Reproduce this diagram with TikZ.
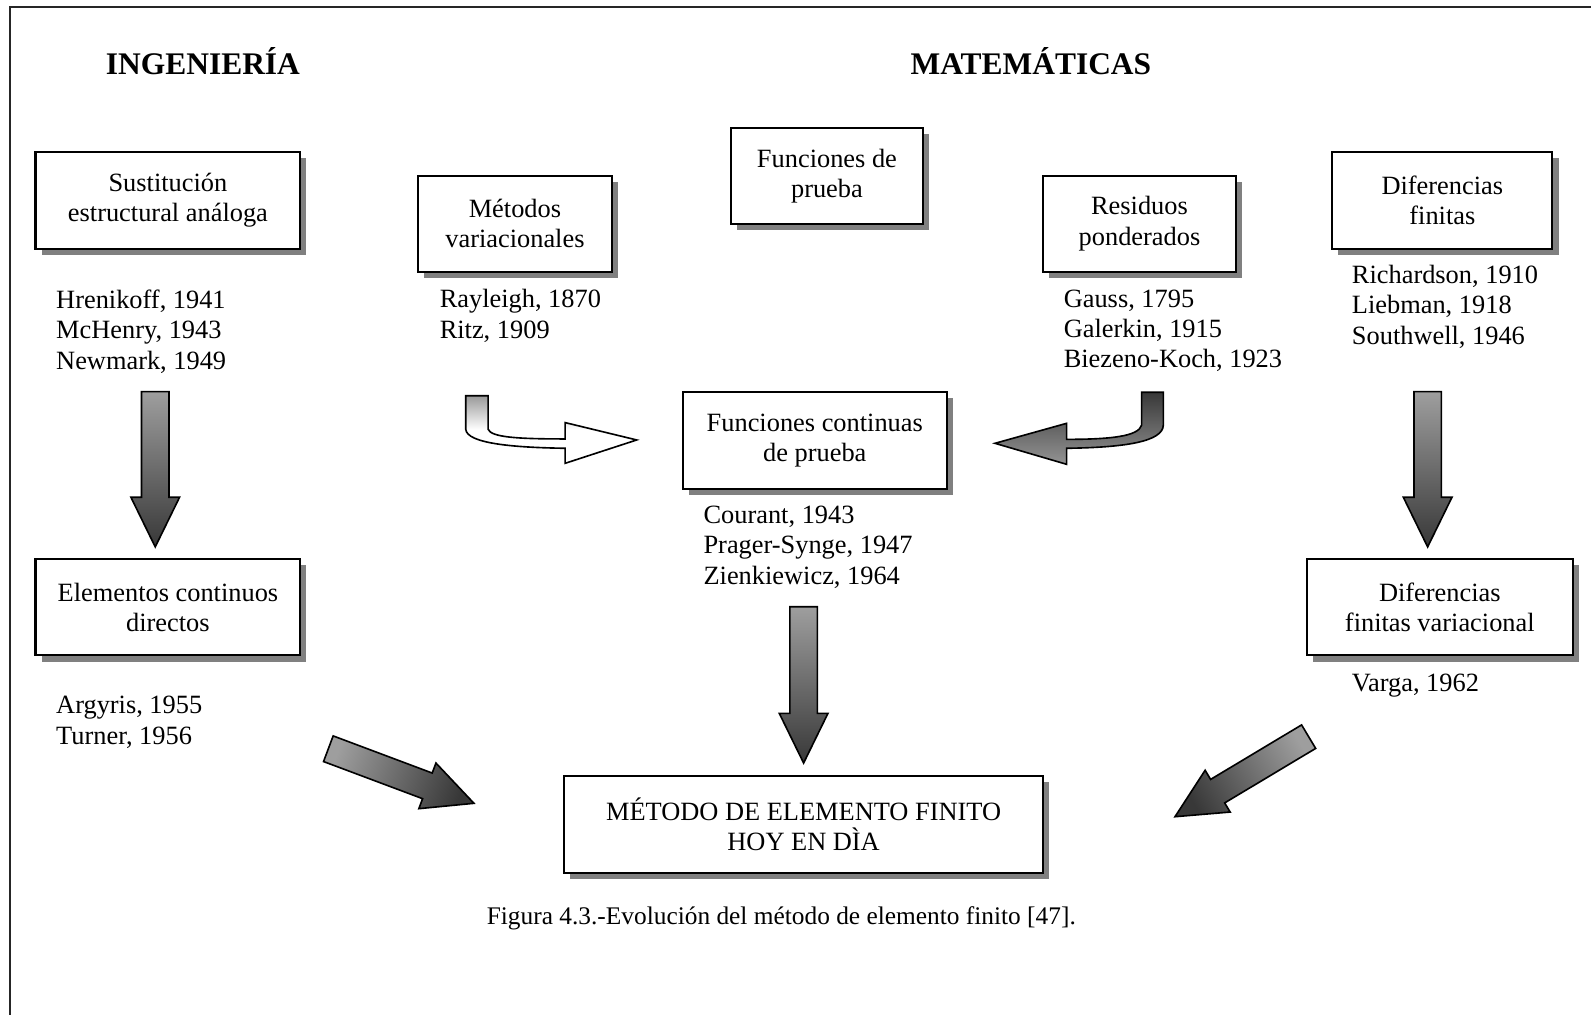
\documentclass[tikz,border=0pt]{standalone}
\usepackage{fontspec}
\setmainfont{Liberation Serif}
\usetikzlibrary{calc,shadows}

\tikzset{
    infobox/.style={
        draw,
        line width=1pt,
        fill=white,
        align=center,
        minimum height=47.5pt,
        drop shadow={fill=black!50, opacity=1, shadow xshift=3pt, shadow yshift=-3pt}
        },
    datelist/.style={anchor=north west, align=left, inner sep=0pt},
    heading/.style={font=\fontsize{15.5}{18}\selectfont\bfseries},
    blockfill/.style={draw, line width=0.8pt, line join=miter}
}

% thick shaded block arrow from #1 to #2, shading angle #3
\newcommand{\blockarrow}[3]{%
    \coordinate (#1-s) at ($(#2)!24.5pt!(#1)$);
    \path[blockfill, top color=black!38, bottom color=black!78, shading angle=#3]
        ($(#1)!6.75pt!90:(#2)$) -- ($(#1-s)!6.75pt!-90:(#1)$)
        -- ($(#1-s)!12pt!-90:(#1)$) -- (#2)
        -- ($(#1-s)!12pt!90:(#1)$) -- ($(#1-s)!6.75pt!90:(#1)$)
        -- ($(#1)!6.75pt!-90:(#2)$) -- cycle;
}

\begin{document}
\begin{tikzpicture}[x=0.5pt, y=-0.5pt, font=\fontsize{13}{15}\selectfont]
\useasboundingbox (0,0) rectangle (1568,1000);
\draw[line width=1pt, black!85] (10,1010) |- (1580,7);

% headings
\node[heading] (ing) at (200,60) {INGENIERÍA};
\node[heading] (mat) at (1016,60) {MATEMÁTICAS};

% boxes
\node[infobox, minimum width=130.5pt] (sust) at (165.5,197.5) {Sustitución\\estructural análoga};
\node[infobox, minimum width=95.5pt] (metodos) at (507.5,220.5) {Métodos\\variacionales};
\node[infobox, minimum width=95pt] (funprueba) at (815,173.5) {Funciones de\\prueba};
\node[infobox, minimum width=95pt] (residuos) at (1123,220.5) {Residuos\\ponderados};
\node[infobox, minimum width=108.5pt] (difin) at (1421.5,197.5) {Diferencias\\finitas};
\node[infobox, minimum width=130pt] (funcont) at (803,434) {Funciones continuas\\de prueba};
\node[infobox, minimum width=130.5pt] (elementos) at (165.5,598.5) {Elementos continuos\\directos};
\node[infobox, minimum width=131pt] (difvar) at (1419,598.5) {Diferencias\\finitas variacional};
\node[infobox, minimum width=236pt] (mef) at (792,812.5) {MÉTODO DE ELEMENTO FINITO\\HOY EN DÌA};

% authors and years
\node[datelist] (hren) at (55,285) {Hrenikoff, 1941\\McHenry, 1943\\Newmark, 1949};
\node[datelist] (rayl) at (433,285) {Rayleigh, 1870\\Ritz, 1909};
\node[datelist] (gauss) at (1048,285) {Gauss, 1795\\Galerkin, 1915\\Biezeno-Koch, 1923};
\node[datelist] (rich) at (1332,261) {Richardson, 1910\\Liebman, 1918\\Southwell, 1946};
\node[datelist] (cour) at (693,498) {Courant, 1943\\Prager-Synge, 1947\\Zienkiewicz, 1964};
\node[datelist] (argy) at (55,686) {Argyris, 1955\\Turner, 1956};
\node[datelist] (varga) at (1332,664) {Varga, 1962};

% straight arrows
\coordinate (ld) at (153,386);   \coordinate (ldt) at (153,539);
\coordinate (rd) at (1407,386);  \coordinate (rdt) at (1407,539);
\coordinate (cd) at (792,598);   \coordinate (cdt) at (792,752);
\coordinate (lg) at (323.6,737.9); \coordinate (lgt) at (467.1,791.7);
\coordinate (rg) at (1289.7,726);  \coordinate (rgt) at (1158,804.9);
\blockarrow{ld}{ldt}{0}
\blockarrow{rd}{rdt}{0}
\blockarrow{cd}{cdt}{0}
\blockarrow{lg}{lgt}{69.5}
\blockarrow{rg}{rgt}{-59.1}

% curved arrows
\path[blockfill, top color=black!40, bottom color=white, middle color=white]
    (459,390) -- (481,390) -- (481,423)
    .. controls (484,431) and (510,432.6) .. (557,432.6)
    -- (557,416.5) -- (627.5,433.6) -- (557,456.6) -- (557,441.8)
    .. controls (505,441) and (460,437) .. (459,423) -- cycle;
\path[blockfill, top color=black!78, bottom color=black!42]
    (1146.5,386.6) -- (1125.1,386.6) -- (1125.1,419)
    .. controls (1122,430) and (1095,433) .. (1051.2,433)
    -- (1051.2,417.2) -- (980.6,436.9) -- (1051.2,457.6) -- (1051.2,441.8)
    .. controls (1110,441) and (1146,435) .. (1146.5,419) -- cycle;

% caption
\node[font=\fontsize{12.5}{15}\selectfont] (cap) at (770,905) {Figura 4.3.-Evolución del método de elemento finito [47].};
\end{tikzpicture}
\end{document}
